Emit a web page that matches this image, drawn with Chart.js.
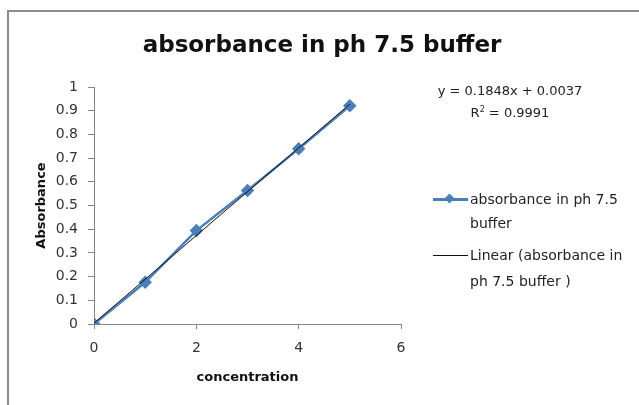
<!DOCTYPE html>
<html>
<head>
<meta charset="utf-8">
<script src="https://cdn.jsdelivr.net/npm/chart.js@4"></script>
<style>
  html, body { margin: 0; padding: 0; background: #fff; }
  #wrap { position: relative; width: 639px; height: 405px; overflow: hidden; font-family: "DejaVu Sans", sans-serif; }
  #frame { position: absolute; left: 7px; top: 10px; width: 700px; height: 500px; border-top: 2px solid #8c8c8c; border-left: 2px solid #8c8c8c; }
  #box { position: absolute; left: 0; top: 0; width: 639px; height: 405px; }
  #title { position: absolute; left: 122px; width: 400px; top: 28px; text-align: center; font-size: 23px; font-weight: bold; color: #111; line-height: 32px; }
  .txt { position: absolute; color: #222; font-size: 13px; white-space: nowrap; }
  .eq { width: 200px; text-align: center; left: 410px; }
  .leg { left: 470px; font-size: 14px; }
  .mark { position: absolute; left: 433px; width: 35px; }
</style>
</head>
<body>
<div id="wrap">
  <div id="frame"></div>
  <div id="box"><canvas id="chart"></canvas></div>
  <div id="title">absorbance in ph 7.5 buffer</div>
  <div class="txt eq" style="top:83px">y = 0.1848x + 0.0037</div>
  <div class="txt eq" style="top:105px">R<sup style="font-size:8px">2</sup> = 0.9991</div>
  <div class="mark" style="top:198px;height:3px;background:#4a7ebb"></div>
  <div class="mark" style="top:195px;left:446px;width:7px;height:7px;background:#4a7ebb;transform:rotate(45deg)"></div>
  <div class="txt leg" style="top:187px;line-height:24px">absorbance in ph 7.5<br>buffer</div>
  <div class="mark" style="top:255px;height:1px;background:#111"></div>
  <div class="txt leg" style="top:242px;line-height:26px">Linear (absorbance in<br>ph 7.5 buffer )</div>
</div>
<script>
const concentration = [0, 1, 2, 3, 4, 5];
const absorbance = [0, 0.176, 0.394, 0.563, 0.739, 0.921];
const trendX = [0, 5];
const trendY = [0.0037, 0.9277];
const xTicks = [0, 2, 4, 6];

const axisGray = '#868686';
const blue = '#4a7ebb';
const tickFont = { family: 'DejaVu Sans', size: 14 };
const axisTitleFont = { family: 'DejaVu Sans', size: 13, weight: 'bold' };

new Chart(document.getElementById('chart'), {
  type: 'scatter',
  data: {
    datasets: [
      {
        label: 'Linear (absorbance in ph 7.5 buffer )',
        data: trendX.map((x, i) => ({ x: x, y: trendY[i] })),
        showLine: true,
        borderColor: '#111',
        borderWidth: 1,
        pointRadius: 0,
        order: 1
      },
      {
        label: 'absorbance in ph 7.5 buffer',
        data: concentration.map((x, i) => ({ x: x, y: absorbance[i] })),
        showLine: true,
        borderColor: blue,
        backgroundColor: blue,
        borderWidth: 2.5,
        pointStyle: 'rectRot',
        pointRadius: 5,
        order: 2
      }
    ]
  },
  options: {
    responsive: true,
    maintainAspectRatio: false,
    animation: false,
    layout: { padding: { left: 30, right: 238, top: 87, bottom: 16 } },
    plugins: {
      legend: { display: false },
      tooltip: { enabled: false },
      title: { display: false }
    },
    scales: {
      x: {
        type: 'linear',
        min: 0,
        max: 6,
        afterBuildTicks: (scale) => { scale.ticks = xTicks.map(v => ({ value: v })); },
        afterFit: (scale) => { scale.height = 65; },
        grid: { drawOnChartArea: false, color: axisGray, tickLength: 5 },
        border: { color: axisGray },
        ticks: { color: '#333', font: tickFont, padding: 11 },
        title: {
          display: true,
          text: 'concentration',
          color: '#111',
          font: axisTitleFont,
          padding: { top: 4, bottom: 4 }
        }
      },
      y: {
        min: 0,
        max: 1,
        afterFit: (scale) => { scale.width = 64; },
        grid: { drawOnChartArea: false, color: axisGray, tickLength: 6 },
        border: { color: axisGray },
        ticks: {
          stepSize: 0.1,
          color: '#333',
          font: tickFont,
          padding: 10,
          callback: (value) => String(Number(value.toFixed(1)))
        },
        title: {
          display: true,
          text: 'Absorbance',
          color: '#111',
          font: axisTitleFont,
          padding: { top: 4, bottom: 4 }
        }
      }
    }
  }
});
</script>
</body>
</html>
